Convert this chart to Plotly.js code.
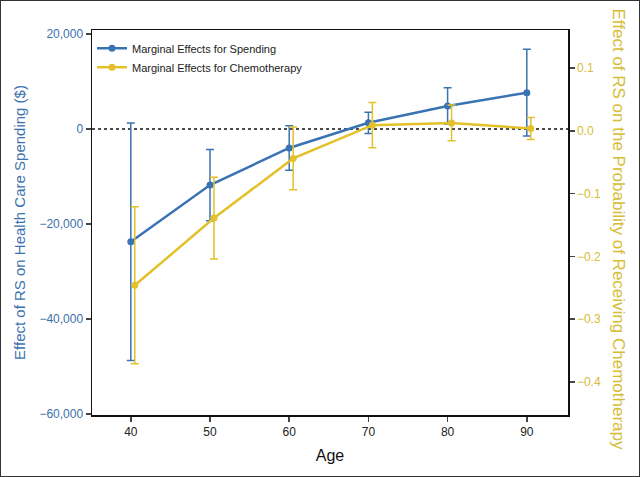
<!DOCTYPE html>
<html>
<head>
<meta charset="utf-8">
<script src="https://cdn.plot.ly/plotly-3.0.1.min.js"></script>
<style>
html,body{margin:0;padding:0;background:#fff;}
#wrap{position:relative;width:640px;height:477px;}
#chart{width:640px;height:477px;}
#frame{position:absolute;left:0;top:0;width:640px;height:477px;box-sizing:border-box;border:1px solid #333;pointer-events:none;}
</style>
</head>
<body>
<div id="wrap"><div id="chart"></div><div id="frame"></div></div>
<script>
// Data
const ages = [40, 50, 60, 70, 80, 90];
const spending = [-23750, -11800, -4000, 1300, 4860, 7650];
const spendingErr = [25000, 7500, 4700, 2250, 3800, 9150];
const chemo = [-0.246, -0.139, -0.044, 0.009, 0.0125, 0.0037];
const chemoErr = [0.125, 0.065, 0.05, 0.036, 0.0285, 0.0175];
const xTicks = [40, 50, 60, 70, 80, 90];
const leftTicks = [20000, 0, -20000, -40000, -60000];
const rightTicks = [0.1, 0, -0.1, -0.2, -0.3, -0.4];

const dodge = 0.5; // chemotherapy series drawn slightly offset to the right
const blue = '#3a73b3';
const yellow = '#e2c12b';
const font = 'Liberation Sans, Arial, sans-serif';

const traces = [
  {
    x: ages, y: spending, name: 'Marginal Effects for Spending',
    type: 'scatter', mode: 'lines+markers',
    line: {color: blue, width: 2.5}, marker: {color: blue, size: 7},
    error_y: {type: 'data', array: spendingErr, visible: true, color: blue, thickness: 1.5, width: 4},
    yaxis: 'y'
  },
  {
    x: ages.map(a => a + dodge), y: chemo, name: 'Marginal Effects for Chemotherapy',
    type: 'scatter', mode: 'lines+markers',
    line: {color: yellow, width: 2.5}, marker: {color: yellow, size: 7},
    error_y: {type: 'data', array: chemoErr, visible: true, color: yellow, thickness: 1.5, width: 4},
    yaxis: 'y2'
  }
];

const layout = {
  width: 640, height: 477,
  margin: {l: 92, r: 72, t: 30, b: 62},
  paper_bgcolor: '#fff', plot_bgcolor: '#fff',
  font: {family: font, size: 12, color: '#222'},
  showlegend: true,
  legend: {x: 0.0, y: 0.99, xanchor: 'left', yanchor: 'top', bgcolor: 'rgba(0,0,0,0)',
           font: {size: 11, color: '#222', family: font}, tracegroupgap: 2},
  xaxis: {
    range: [35.1, 95.2], tickvals: xTicks, ticks: 'outside', ticklen: 5, tickwidth: 1.5,
    showline: true, linecolor: '#111', linewidth: 1.5, mirror: true, showgrid: false, zeroline: false,
    tickfont: {size: 12, color: '#222'},
    title: {text: 'Age', font: {size: 16, color: '#111'}, standoff: 12}
  },
  yaxis: {
    range: [-60210, 20840], tickvals: leftTicks, tickformat: ',d', ticks: 'outside', ticklen: 5, tickwidth: 1.5,
    showline: true, linecolor: '#111', linewidth: 1.5, showgrid: false, zeroline: false,
    tickfont: {size: 12, color: '#3d6fa8'},
    title: {text: 'Effect of RS on Health Care Spending ($)', font: {size: 15, color: '#3d72b0'}, standoff: 10}
  },
  yaxis2: {
    overlaying: 'y', side: 'right',
    range: [-0.4525, 0.1605], tickvals: rightTicks, tickformat: '.1f', ticks: 'outside', ticklen: 5, tickwidth: 1.5,
    showline: true, linecolor: '#111', linewidth: 1.5, showgrid: false, zeroline: false,
    tickfont: {size: 12, color: '#d6bd35'}
  },
  shapes: [
    {type: 'line', xref: 'paper', x0: 0, x1: 1, yref: 'y', y0: 0, y1: 0,
     line: {color: '#111', width: 1.5, dash: 'dot'}, layer: 'below'}
  ],
  annotations: [
    {text: 'Effect of RS on the Probability of Receiving Chemotherapy', textangle: 90,
     xref: 'paper', yref: 'paper', x: 1.107, y: 0.482, xanchor: 'center', yanchor: 'middle',
     showarrow: false, font: {size: 17, color: '#d6bd35', family: font}}
  ]
};

Plotly.newPlot('chart', traces, layout, {displayModeBar: false, staticPlot: true});
</script>
</body>
</html>
